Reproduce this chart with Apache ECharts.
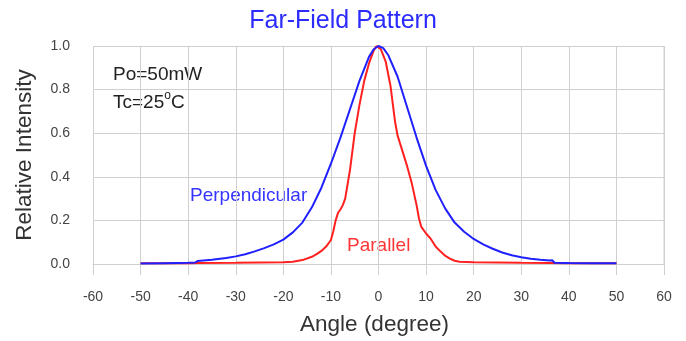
<!DOCTYPE html>
<html>
<head>
<meta charset="utf-8">
<script src="https://cdn.jsdelivr.net/npm/echarts@6/dist/echarts.min.js"></script>
<style>
  html, body { margin: 0; padding: 0; background: #fff; }
  #chart { width: 686px; height: 341px; }
</style>
</head>
<body>
<div id="chart"></div>
<script>
// perpendicular beam, angle (deg) -> relative intensity
const perpAngles = [-50, -45, -40, -38.5, -38, -35, -32, -30, -28, -26, -24, -22, -20, -18, -16, -14, -12, -10, -8, -6, -4, -2, -1, 0,
  1, 2, 4, 6, 8, 10, 12, 14, 16, 18, 20, 22, 24, 26, 28, 30, 32, 34, 36, 36.5, 37, 40, 45, 50];
const perpValues = [0.002, 0.004, 0.006, 0.007, 0.014, 0.02, 0.028, 0.035, 0.045, 0.058, 0.073, 0.09, 0.112, 0.145, 0.19, 0.26, 0.35, 0.46, 0.58, 0.71, 0.84, 0.95, 0.985, 1.0,
  0.99, 0.96, 0.86, 0.72, 0.58, 0.45, 0.34, 0.255, 0.19, 0.148, 0.115, 0.09, 0.07, 0.053, 0.04, 0.031, 0.024, 0.019, 0.016, 0.017, 0.006, 0.005, 0.004, 0.003];

// parallel beam
const paraAngles = [-50, -40, -38, -30, -25, -20, -18, -16, -14, -13, -12, -11, -10, -9.5, -9, -8.5, -8, -7.5, -7, -6, -5, -4, -3, -2, -1, -0.4,
  0.5, 1.5, 2.5, 3.5, 4, 5, 6, 7, 8, 8.5, 9, 10, 11, 12, 13, 14, 15, 16, 17, 20, 30, 36, 40, 50];
const paraValues = [0.003, 0.004, 0.005, 0.006, 0.007, 0.008, 0.01, 0.018, 0.033, 0.045, 0.06, 0.08, 0.11, 0.15, 0.2, 0.235, 0.25, 0.27, 0.3, 0.43, 0.6, 0.73, 0.84, 0.92, 0.98, 1.0,
  0.985, 0.93, 0.82, 0.65, 0.59, 0.52, 0.45, 0.37, 0.27, 0.21, 0.17, 0.14, 0.115, 0.08, 0.058, 0.038, 0.025, 0.015, 0.01, 0.008, 0.006, 0.005, 0.004, 0.003];

const pairs = (xs, ys) => xs.map((x, i) => [x, ys[i]]);

const gridColor = "#d0d0d0";
const font = "'Liberation Sans', Arial, sans-serif";

const chart = echarts.init(document.getElementById("chart"));
chart.setOption({
  animation: false,
  title: {
    text: "Far-Field Pattern",
    left: "center",
    top: 4,
    textStyle: { color: "#2b2bff", fontSize: 25, fontWeight: "normal", fontFamily: font }
  },
  grid: { left: 93, right: 22, top: 46, bottom: 77 },
  xAxis: {
    type: "value",
    min: -60,
    max: 60,
    interval: 10,
    name: "Angle (degree)",
    nameLocation: "middle",
    nameGap: 49,
    nameTextStyle: { color: "#333", fontSize: 22.5, fontFamily: font, padding: [0, 8, 0, 0] },
    axisLine: { show: true, lineStyle: { color: gridColor } },
    axisTick: { show: true, length: 11, lineStyle: { color: gridColor } },
    axisLabel: { color: "#444", fontSize: 14, margin: 26, fontFamily: font },
    splitLine: { show: true, lineStyle: { color: gridColor } }
  },
  yAxis: {
    type: "value",
    min: 0,
    max: 1,
    interval: 0.2,
    name: "Relative Intensity",
    nameLocation: "middle",
    nameGap: 57,
    nameTextStyle: { color: "#333", fontSize: 22.5, fontFamily: font },
    axisLine: { show: true, lineStyle: { color: gridColor } },
    axisTick: { show: true, length: 11, lineStyle: { color: gridColor } },
    axisLabel: { color: "#444", fontSize: 14, margin: 23, fontFamily: font, formatter: v => v.toFixed(1) },
    splitLine: { show: true, lineStyle: { color: gridColor } }
  },
  graphic: [
    { type: "line", shape: { x1: 664, y1: 46, x2: 664, y2: 264 }, style: { stroke: gridColor, lineWidth: 1 } },
    { type: "text", left: 113, top: 65, style: { text: "Po=50mW", fill: "#222", font: "19px " + font } },
    {
      type: "text", left: 113, top: 90,
      style: {
        text: "{a|Tc=25}{s|o}{a|C}",
        rich: {
          a: { fontSize: 19, fontFamily: font, fill: "#222", verticalAlign: "bottom", lineHeight: 22 },
          s: { fontSize: 12, fontFamily: font, fill: "#222", verticalAlign: "top", lineHeight: 22 }
        }
      }
    },
    { type: "text", left: 190, top: 186, style: { text: "Perpendicular", fill: "#3535ff", font: "19px " + font } },
    { type: "text", left: 347, top: 236, style: { text: "Parallel", fill: "#ff3535", font: "19px " + font } }
  ],
  series: [
    {
      name: "Perpendicular",
      type: "line",
      showSymbol: false,
      data: pairs(perpAngles, perpValues),
      lineStyle: { width: 2, color: "#2020ff" },
      z: 3
    },
    {
      name: "Parallel",
      type: "line",
      showSymbol: false,
      data: pairs(paraAngles, paraValues),
      lineStyle: { width: 2, color: "#ff2020" },
      z: 2
    }
  ]
});
</script>
</body>
</html>
